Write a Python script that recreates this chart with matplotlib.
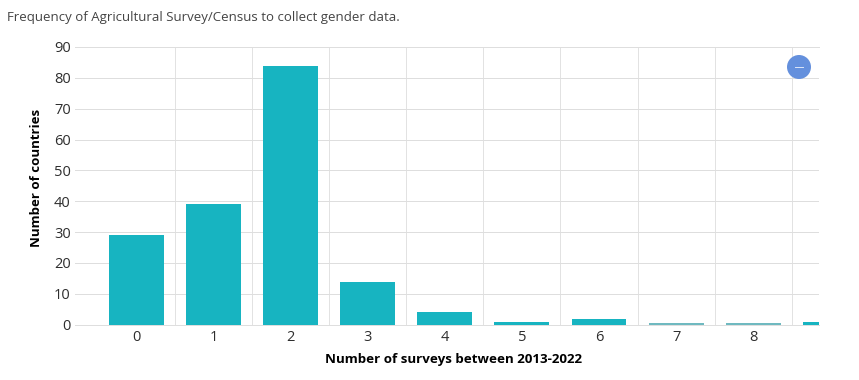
import matplotlib
matplotlib.use("Agg")
import matplotlib.pyplot as plt
from matplotlib.patches import Circle
from matplotlib.lines import Line2D

plt.rcParams['font.family'] = ['Open Sans', 'DejaVu Sans']

title = "Frequency of Agricultural Survey/Census to collect gender data."
xlabel = "Number of surveys between 2013-2022"
ylabel = "Number of countries"
surveys = [0, 1, 2, 3, 4, 5, 6, 7, 8, 9]
countries = [29, 39, 84, 14, 4, 1, 2, 0.5, 0.5, 1]
xticks = [0, 1, 2, 3, 4, 5, 6, 7, 8]
yticks = [0, 10, 20, 30, 40, 50, 60, 70, 80, 90]
xgrid = [0.5, 1.5, 2.5, 3.5, 4.5, 5.5, 6.5, 7.5, 8.5]

W, H = 859, 380
fig = plt.figure(figsize=(W / 100, H / 100), dpi=100, facecolor='white')
L, R, T, B = 75, 819, 47, 324.7
ax = fig.add_axes([L / W, 1 - B / H, (R - L) / W, (B - T) / H])

bars = ax.bar(surveys, countries, width=0.712, color='#17B4C1', zorder=3, linewidth=0)
for b, v in zip(bars, countries):
    if v < 0.6:
        b.set_color('#6FB9C0')

ax.set_xlim(-0.797, 8.853)
ax.set_ylim(0, 90)
ax.set_xticks(xticks)
ax.set_yticks(yticks)
ax.set_xticks(xgrid, minor=True)
ax.tick_params(axis='x', which='major', length=0, labelsize=10.5, labelcolor='#2E2E2E', pad=3.5)
ax.tick_params(axis='x', which='minor', length=0)
ax.tick_params(axis='y', length=0, labelsize=10.5, labelcolor='#2E2E2E', pad=3)
ax.grid(True, axis='y', which='major', color='#DEDEDE', linewidth=0.72, zorder=0)
ax.grid(True, axis='x', which='minor', color='#E2E2E2', linewidth=0.72, zorder=0)
ax.grid(False, axis='x', which='major')
for s in ax.spines.values():
    s.set_visible(False)
ax.axhline(0, color='#DEDEDE', linewidth=0.72, zorder=1, clip_on=False)
ax.axhline(90, color='#DEDEDE', linewidth=0.72, zorder=1, clip_on=False)

fig.text(7 / W, 1 - 17 / H, title, fontsize=9.5, color='#444444', va='center', ha='left')
fig.text(453.5 / W, 1 - 360 / H, xlabel, fontsize=9.6, fontweight='bold', color='black', ha='center', va='center')
fig.text(37 / W, 1 - 178 / H, ylabel, fontsize=9.5, fontweight='bold', color='black', rotation=90, ha='center', va='center')

# collapse button
cx, cy, r = 799, 67, 12
fig.add_artist(Circle((cx, H - cy), r, transform=None, facecolor='#6490DD', edgecolor='none', zorder=5))
fig.add_artist(Line2D([cx - 4, cx + 4], [H - cy, H - cy], transform=None, color='#DCE6F8', linewidth=0.7, zorder=6))

fig.savefig('out.png', dpi=100, facecolor='white')
